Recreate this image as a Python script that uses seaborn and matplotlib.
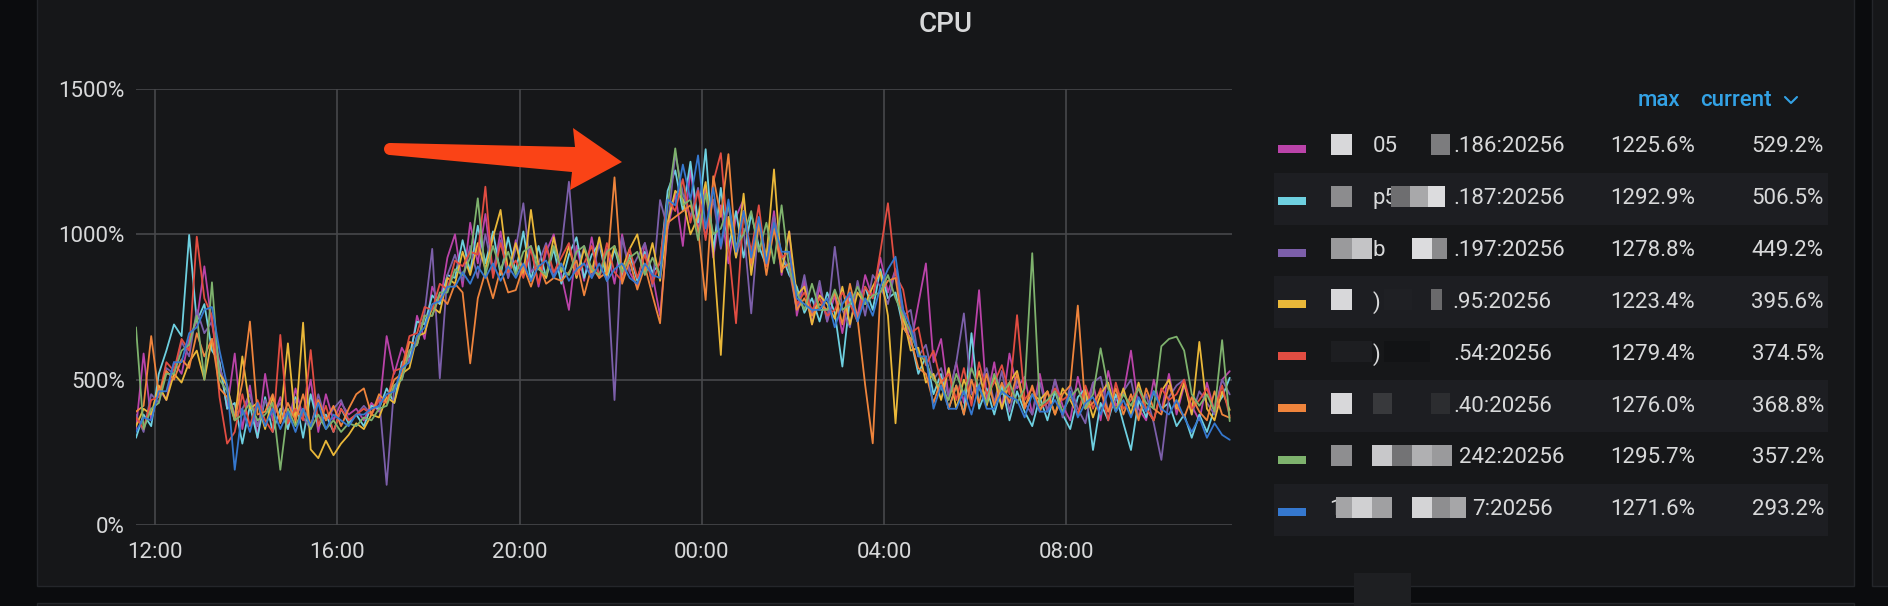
import numpy as np
import pandas as pd
import matplotlib
matplotlib.use("Agg")
import matplotlib.pyplot as plt
from matplotlib.patches import Rectangle, Polygon, Ellipse
from matplotlib.lines import Line2D
import seaborn as sns

# ---- data (10 min steps from 11:35) ----
start_time = "2021-01-01 11:35"
step = "10min"

series_names = [".186:20256", ".187:20256", ".197:20256", ".95:20256",
                ".54:20256", ".40:20256", "242:20256", "7:20256"]
name_prefix = ["05", "p5", "b", ")", ")", "", "", "1"]
colors = ["#BA43A9", "#6ED0E0", "#7C5FAA", "#EAB839",
          "#E24D42", "#EF843C", "#7EB26D", "#3578CF"]

magenta = [330, 590, 360, 470, 430, 560, 520, 640, 700, 890,
           690, 560, 400, 590, 330, 480, 300, 520, 360, 440,
           330, 470, 370, 500, 320, 450, 360, 420, 380, 400,
           360, 420, 390, 650, 520, 610, 560, 720, 640, 820,
           760, 920, 1000, 820, 1040, 900, 1070, 860, 1010, 850,
           980, 860, 960, 820, 940, 1000, 860, 740, 960, 840,
           990, 850, 950, 830, 1000, 870, 820, 970, 860, 720,
           1020, 1140, 960, 1225.6, 1010, 1160, 920, 1100, 900, 1060,
           1120, 880, 1050, 900, 1080, 860, 1010, 720, 840, 690,
           820, 700, 790, 660, 800, 720, 860, 780, 920, 800,
           880, 740, 620, 760, 900, 560, 640, 440, 560, 420,
           540, 808, 430, 560, 400, 590, 470, 510, 380, 520,
           390, 500, 410, 360, 510, 400, 490, 360, 530, 410,
           450, 600, 400, 360, 500, 390, 520, 380, 480, 410,
           360, 490, 390, 500, 529.2]
cyan = [300, 380, 340, 520, 600, 690, 650, 998, 700, 760,
        600, 560, 400, 420, 280, 410, 300, 440, 320, 400,
        330, 440, 300, 450, 340, 380, 320, 400, 350, 380,
        340, 410, 400, 470, 420, 560, 580, 700, 690, 790,
        760, 860, 850, 980, 870, 1030, 900, 1010, 860, 990,
        870, 1010, 840, 960, 850, 950, 830, 930, 990, 850,
        930, 970, 840, 950, 860, 930, 840, 940, 870, 900,
        1150, 1220, 1080, 1250, 1040, 1292.9, 940, 1160, 950, 1080,
        920, 1070, 960, 890, 1040, 930, 860, 820, 730, 780,
        700, 800, 730, 545, 780, 700, 820, 740, 880, 780,
        800, 680, 640, 520, 580, 450, 520, 400, 480, 380,
        660, 400, 470, 380, 480, 360, 460, 390, 340, 440,
        360, 460, 380, 330, 440, 470, 258, 420, 360, 450,
        350, 258, 430, 370, 460, 400, 420, 340, 380, 300,
        380, 320, 400, 440, 506.5]
purple = [380, 320, 450, 420, 540, 520, 630, 580, 740, 660,
          700, 540, 470, 380, 400, 450, 340, 430, 380, 420,
          360, 430, 370, 330, 450, 360, 400, 430, 360, 380,
          410, 380, 440, 138, 480, 500, 600, 620, 730, 950,
          505, 860, 930, 840, 960, 850, 1000, 870, 980, 850,
          950, 1107, 870, 900, 970, 850, 950, 1181, 850, 960,
          850, 970, 880, 430, 990, 870, 920, 970, 820, 1118,
          1020, 1278.8, 1140, 1060, 1160, 990, 1120, 950, 1100, 920,
          1020, 728, 1050, 900, 1060, 930, 880, 740, 860, 720,
          840, 700, 957, 740, 680, 840, 720, 860, 820, 760,
          880, 720, 740, 580, 620, 500, 540, 440, 560, 728,
          450, 480, 540, 420, 530, 390, 500, 420, 380, 490,
          390, 500, 370, 480, 400, 350, 490, 510, 390, 430,
          460, 500, 370, 450, 350, 224, 440, 480, 500, 380,
          460, 420, 380, 500, 449.2]
yellow = [340, 400, 380, 480, 430, 520, 490, 560, 600, 500,
          640, 520, 480, 360, 580, 400, 420, 330, 440, 360,
          625, 350, 696, 260, 230, 290, 240, 280, 310, 350,
          330, 380, 370, 440, 420, 520, 540, 650, 660, 750,
          730, 850, 830, 940, 860, 970, 880, 990, 1084, 870,
          970, 860, 1084, 890, 850, 990, 870, 960, 850, 950,
          870, 990, 860, 960, 880, 950, 1000, 870, 970, 840,
          1040, 1150, 1120, 1000, 1060, 1180, 940, 585, 1060, 920,
          1140, 860, 1040, 920, 1223.4, 870, 1010, 790, 820, 690,
          790, 760, 710, 820, 690, 800, 760, 820, 870, 720,
          350, 720, 600, 610, 490, 520, 430, 540, 400, 500,
          430, 530, 410, 510, 400, 490, 530, 410, 450, 430,
          460, 380, 470, 430, 380, 460, 370, 450, 490, 390,
          470, 380, 490, 400, 360, 460, 500, 400, 490, 380,
          630, 400, 360, 460, 395.6]
red = [370, 330, 430, 440, 560, 530, 640, 600, 992, 780,
       720, 440, 280, 320, 450, 340, 430, 360, 320, 654,
       350, 400, 360, 602, 340, 410, 320, 400, 360, 380,
       400, 380, 430, 420, 530, 540, 650, 660, 750, 740,
       830, 810, 910, 890, 940, 930, 1164, 850, 970, 870,
       910, 850, 950, 830, 960, 870, 920, 970, 860, 900,
       960, 850, 970, 870, 840, 950, 850, 930, 830, 910,
       1120, 1080, 1190, 1040, 1150, 980, 1180, 1279.4, 960, 694,
       1080, 940, 1100, 890, 1040, 920, 940, 760, 800, 740,
       780, 720, 740, 800, 760, 700, 820, 780, 940, 1107,
       860, 810, 660, 680, 550, 600, 490, 520, 430, 540,
       410, 560, 450, 490, 550, 450, 722, 430, 470, 400,
       420, 470, 430, 450, 380, 480, 400, 470, 360, 490,
       400, 430, 470, 400, 360, 470, 430, 450, 500, 400,
       430, 470, 390, 480, 374.5]
orange = [390, 410, 650, 450, 530, 500, 570, 540, 660, 580,
          640, 470, 440, 360, 490, 700, 380, 390, 450, 350,
          420, 360, 450, 340, 430, 360, 410, 340, 400, 450,
          470, 380, 450, 420, 500, 520, 630, 620, 720, 720,
          790, 760, 830, 800, 556, 780, 870, 780, 880, 800,
          808, 890, 820, 900, 830, 850, 840, 870, 910, 790,
          890, 850, 870, 1196, 830, 910, 810, 890, 790, 694,
          1040, 1060, 1080, 1100, 1020, 774, 1200, 1060, 1276.0, 940,
          1080, 900, 1040, 860, 1020, 880, 900, 740, 780, 720,
          760, 740, 800, 690, 830, 710, 482, 281, 800, 840,
          850, 680, 640, 540, 520, 420, 500, 400, 480, 380,
          500, 420, 520, 410, 490, 420, 520, 400, 480, 390,
          460, 380, 450, 480, 755, 400, 420, 460, 390, 470,
          380, 450, 360, 470, 400, 380, 480, 410, 370, 440,
          390, 360, 460, 380, 368.8]
green = [680, 330, 400, 420, 520, 520, 600, 620, 720, 500,
         835, 500, 460, 360, 380, 420, 360, 380, 420, 190,
         400, 340, 400, 330, 380, 330, 360, 320, 350, 340,
         370, 360, 400, 410, 480, 500, 600, 620, 720, 720,
         800, 800, 880, 860, 920, 1124, 860, 960, 880, 940,
         860, 940, 960, 880, 860, 960, 880, 860, 940, 960,
         880, 860, 940, 960, 870, 920, 940, 860, 920, 860,
         1100, 1295.7, 1100, 1120, 980, 1140, 1000, 1020, 1100, 960,
         1000, 1080, 940, 1040, 900, 1100, 880, 800, 740, 830,
         740, 740, 810, 740, 760, 820, 760, 790, 800, 860,
         780, 720, 660, 590, 560, 500, 470, 430, 520, 450,
         540, 470, 420, 520, 450, 490, 420, 470, 935, 410,
         430, 460, 390, 440, 470, 400, 450, 608, 470, 390,
         450, 410, 470, 420, 400, 615, 640, 648, 600, 450,
         410, 450, 390, 636, 357.2]
blue = [320, 370, 360, 460, 460, 560, 560, 660, 680, 740,
        750, 600, 480, 190, 400, 320, 420, 340, 400, 330,
        390, 320, 400, 340, 420, 330, 380, 360, 340, 380,
        380, 400, 410, 450, 460, 540, 560, 650, 680, 760,
        770, 820, 820, 870, 830, 890, 850, 900, 840, 890,
        850, 900, 840, 890, 910, 850, 900, 840, 880, 900,
        850, 900, 840, 880, 900, 850, 830, 900, 860, 850,
        1120, 1100, 1240, 1120, 1271.6, 1020, 1160, 960, 1120, 940,
        1080, 920, 1060, 900, 1040, 940, 940, 780, 760, 740,
        740, 780, 680, 760, 800, 700, 780, 720, 820, 880,
        923, 740, 680, 580, 580, 400, 480, 400, 400, 460,
        380, 480, 400, 400, 460, 440, 430, 370, 450, 390,
        390, 430, 380, 460, 370, 420, 440, 380, 460, 390,
        430, 370, 440, 390, 460, 400, 380, 430, 370, 320,
        370, 300, 350, 310, 293.2]

y_ticks = [0, 500, 1000, 1500]
y_tick_labels = ["0%", "500%", "1000%", "1500%"]
x_tick_labels = ["12:00", "16:00", "20:00", "00:00", "04:00", "08:00"]
x_tick_times = ["2021-01-01 12:00", "2021-01-01 16:00", "2021-01-01 20:00",
                "2021-01-02 00:00", "2021-01-02 04:00", "2021-01-02 08:00"]

all_series = [magenta, cyan, purple, yellow, red, orange, green, blue]
times = pd.date_range(start_time, periods=len(magenta), freq=step)
frames = []
for name, vals in zip(series_names, all_series):
    frames.append(pd.DataFrame({"time": times, "cpu": vals, "host": name}))
df = pd.concat(frames, ignore_index=True)

# ---- style ----
BG = "#161719"
OUTER = "#0b0c0e"
TEXT = "#d8d9da"
GRID = "#47484b"
BLUE_TXT = "#33a2e5"

sns.set_style("dark")
plt.rcParams["font.family"] = ["Roboto", "DejaVu Sans"]

W, H = 1888, 606
fig = plt.figure(figsize=(W / 100, H / 100), dpi=100, facecolor=OUTER)


def fx(x):
    return x / W


def fy(y):
    return 1 - y / H


# panel backgrounds
fig.add_artist(Rectangle((fx(37), fy(586)), fx(1854) - fx(37), fy(-5) - fy(586),
                         facecolor=BG, edgecolor="#24262a", lw=1, zorder=0))
fig.add_artist(Rectangle((fx(1872), fy(586)), fx(1900) - fx(1872), fy(-5) - fy(586),
                         facecolor=BG, edgecolor="#24262a", lw=1, zorder=0))
fig.add_artist(Rectangle((fx(37), fy(615)), fx(1854) - fx(37), fy(603) - fy(615),
                         facecolor=BG, edgecolor="#24262a", lw=1, zorder=0))
fig.add_artist(Rectangle((fx(1354), fy(606)), fx(1411) - fx(1354), fy(573) - fy(606),
                         facecolor="#1e1f22", lw=0, zorder=0))

ax = fig.add_axes([fx(136), fy(525), fx(1232) - fx(136), fy(89) - fy(525)])
ax.set_facecolor("none")

palette = dict(zip(series_names, colors))
sns.lineplot(data=df, x="time", y="cpu", hue="host", palette=palette,
             estimator=None, linewidth=1.3, legend=False, ax=ax)

ax.set_ylim(0, 1500)
ax.set_xlim(pd.Timestamp("2021-01-01 11:35"), pd.Timestamp("2021-01-02 11:38"))
ax.set_yticks(y_ticks)
ax.set_yticklabels(y_tick_labels)
ax.set_xticks(pd.to_datetime(x_tick_times))
ax.set_xticklabels(x_tick_labels)
ax.set_xlabel("")
ax.set_ylabel("")
ax.grid(True, color=GRID, linewidth=1.2)
ax.set_axisbelow(True)
for s in ax.spines.values():
    s.set_visible(False)
ax.tick_params(axis="both", length=0, labelsize=16, labelcolor=TEXT)
ax.tick_params(axis="y", pad=8)
ax.tick_params(axis="x", pad=12)

fig.text(fx(946), fy(25), "CPU", ha="center", va="center", fontsize=20,
         color=TEXT, fontweight="medium")

# ---- legend table ----
row_y = [147 + 51.8 * k for k in range(8)]
for k, yc in enumerate(row_y):
    if k % 2 == 1:
        fig.add_artist(Rectangle((fx(1274), fy(yc + 26)), fx(1828) - fx(1274),
                                 fy(yc - 26) - fy(yc + 26),
                                 facecolor="#1d1e22", lw=0, zorder=1))

fig.text(fx(1680), fy(100), "max", ha="right", va="center", fontsize=16,
         color=BLUE_TXT, fontweight="medium")
fig.text(fx(1700), fy(100), "current", ha="left", va="center", fontsize=16,
         color=BLUE_TXT, fontweight="medium")
fig.add_artist(Line2D([fx(1785), fx(1791), fx(1797)], [fy(97), fy(103), fy(97)],
                      color=BLUE_TXT, lw=1.5))

# hidden host names (mosaic blocks)
mosaic = [
    [(1331, 1352, "#d8d8da"), (1431, 1450, "#7c7c7e")],
    [(1331, 1352, "#8c8c8e"), (1391, 1410, "#6e6e70"), (1410, 1428, "#a8a8aa"),
     (1428, 1445, "#dcdcde")],
    [(1331, 1352, "#9a9a9c"), (1352, 1372, "#c4c4c6"), (1412, 1432, "#dcdcde"),
     (1432, 1447, "#8a8a8c")],
    [(1331, 1352, "#d8d8da"), (1384, 1412, "#1f2024"), (1431, 1442, "#6a6a6c")],
    [(1331, 1372, "#1d1e21"), (1384, 1430, "#121315")],
    [(1331, 1352, "#d8d8da"), (1373, 1392, "#38393c"), (1431, 1450, "#2c2d30")],
    [(1331, 1352, "#8e8e90"), (1372, 1392, "#c8c8ca"), (1392, 1412, "#737375"),
     (1412, 1432, "#b0b0b2"), (1432, 1452, "#9a9a9c")],
    [(1336, 1352, "#a4a4a6"), (1352, 1372, "#d0d0d2"), (1372, 1392, "#a0a0a2"),
     (1412, 1432, "#d4d4d6"), (1432, 1450, "#8e8e90"), (1450, 1466, "#a6a6a8")],
]
name_end = [1565, 1565, 1565, 1552, 1552, 1552, 1565, 1553]

for k, yc in enumerate(row_y):
    vals = np.array(all_series[k])
    fig.add_artist(Rectangle((fx(1278), fy(yc + 6)), fx(1306) - fx(1278),
                             fy(yc - 2) - fy(yc + 6), facecolor=colors[k],
                             lw=0, zorder=2))
    if name_prefix[k]:
        px0 = 1329 if k == 7 else 1373
        fig.text(fx(px0), fy(yc), name_prefix[k], ha="left", va="center",
                 fontsize=16, color=TEXT, zorder=3)
    fig.text(fx(name_end[k]), fy(yc), series_names[k], ha="right", va="center",
             fontsize=16, color=TEXT, zorder=3)
    for x0, x1, c in mosaic[k]:
        fig.add_artist(Rectangle((fx(x0), fy(yc + 8)), fx(x1) - fx(x0),
                                 fy(yc - 13) - fy(yc + 8), facecolor=c,
                                 lw=0, zorder=4))
    fig.text(fx(1695), fy(yc), f"{vals.max():.1f}%", ha="right", va="center",
             fontsize=16, color=TEXT, zorder=3)
    fig.text(fx(1824), fy(yc), f"{vals[-1]:.1f}%", ha="right", va="center",
             fontsize=16, color=TEXT, zorder=3)

# ---- red annotation arrow ----
arrow_px = [(390, 143), (575, 147), (573, 128), (622, 162), (570, 190),
            (572, 172), (390, 155)]
arrow = Polygon([(fx(x), fy(y)) for x, y in arrow_px], closed=True,
                facecolor="#fa4316", edgecolor="none", transform=fig.transFigure,
                zorder=10)
fig.add_artist(arrow)
fig.add_artist(Ellipse((fx(390), fy(149)), width=12 / W, height=12 / H,
                       facecolor="#fa4316", edgecolor="none",
                       transform=fig.transFigure, zorder=10))

fig.savefig("out.png", dpi=100, facecolor=OUTER)
